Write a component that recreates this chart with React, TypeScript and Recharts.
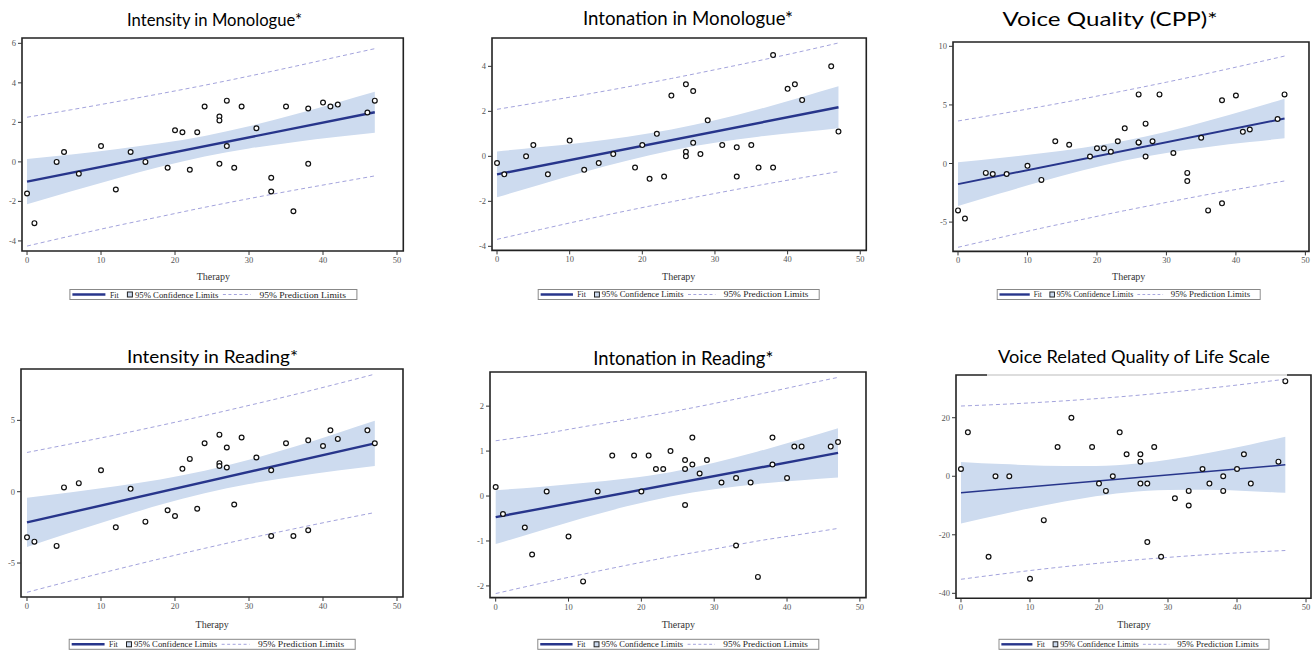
import React from "react";
import { ComposedChart, Area, Line, Scatter, XAxis, YAxis, ReferenceArea } from "recharts";

// therapy sessions (shared x for every panel)
const THERAPY = [0, 1, 4, 5, 7, 10, 12, 14, 16, 19, 20, 21, 22, 23, 24, 26, 26, 26, 27, 27, 28, 29, 31, 33, 33, 35, 36, 38, 38, 40, 41, 42, 46, 47];
const X_TICKS = [0, 10, 20, 30, 40, 50];
const BAND_X = [0, 6, 12, 18, 24, 30, 36, 42, 47];
const FIT_X = [0, 47];

// Intensity in Monologue
const intMonoY = [-1.6, -3.1, 0, 0.5, -0.6, 0.8, -1.4, 0.5, 0, -0.3, 1.6, 1.5, -0.4, 1.5, 2.8, 2.3, 2.1, -0.1, 3.1, 0.8, -0.3, 2.8, 1.7, -0.8, -1.5, 2.8, -2.5, 2.7, -0.1, 3.0, 2.8, 2.9, 2.5, 3.1];
const intMonoFit = [-1.0, 2.51];
const intMonoCiLo = [-2.15, -1.48, -0.85, -0.25, 0.27, 0.68, 1.0, 1.27, 1.47];
const intMonoCiHi = [0.15, 0.38, 0.64, 0.94, 1.31, 1.8, 2.38, 3.01, 3.55];
const intMonoPiLo = [-4.26, -3.74, -3.24, -2.77, -2.3, -1.86, -1.44, -1.04, -0.71];
const intMonoPiHi = [2.26, 2.64, 3.04, 3.45, 3.88, 4.34, 4.82, 5.32, 5.73];

// Intonation in Monologue
const intoMonoY = [-0.3, -0.8, 0, 0.5, -0.8, 0.7, -0.6, -0.3, 0.1, -0.5, 0.5, -1.0, 1.0, -0.9, 2.7, 3.2, 0.2, 0.0, 2.9, 0.6, 0.1, 1.6, 0.5, 0.4, -0.9, 0.5, -0.5, 4.5, -0.5, 3.0, 3.2, 2.5, 4.0, 1.1];
const intoMonoFit = [-0.8, 2.18];
const intoMonoCiLo = [-1.82, -1.25, -0.7, -0.19, 0.26, 0.6, 0.87, 1.08, 1.25];
const intoMonoCiHi = [0.22, 0.41, 0.62, 0.87, 1.19, 1.6, 2.09, 2.64, 3.11];
const intoMonoPiLo = [-3.69, -3.25, -2.82, -2.41, -2.02, -1.65, -1.29, -0.95, -0.68];
const intoMonoPiHi = [2.09, 2.41, 2.74, 3.09, 3.46, 3.85, 4.25, 4.67, 5.04];

// Voice Quality (CPP)
const cppY = [-4.0, -4.7, -0.8, -0.9, -0.9, -0.2, -1.4, 1.9, 1.6, 0.6, 1.3, 1.3, 1.0, 1.9, 3.0, 5.9, 1.8, 1.8, 3.4, 0.6, 1.9, 5.9, 0.9, -0.8, -1.5, 2.2, -4.0, 5.4, -3.4, 5.8, 2.7, 2.9, 3.8, 5.9];
const cppFit = [-1.76, 3.84];
const cppCiLo = [-3.62, -2.56, -1.53, -0.58, 0.25, 0.9, 1.41, 1.83, 2.15];
const cppCiHi = [0.1, 0.46, 0.87, 1.34, 1.95, 2.72, 3.65, 4.66, 5.53];
const cppPiLo = [-7.15, -6.33, -5.52, -4.76, -4.02, -3.32, -2.64, -2.01, -1.49];
const cppPiHi = [3.63, 4.23, 4.86, 5.52, 6.22, 6.94, 7.7, 8.49, 9.17];

// Intensity in Reading
const intReadY = [-3.2, -3.5, -3.8, 0.3, 0.6, 1.5, -2.5, 0.2, -2.1, -1.3, -1.7, 1.6, 2.3, -1.2, 3.4, 4.0, 2.0, 1.8, 3.1, 1.7, -0.9, 3.8, 2.4, 1.5, -3.1, 3.4, -3.1, 3.6, -2.7, 3.2, 4.3, 3.7, 4.3, 3.4];
const intReadFit = [-2.15, 3.39];
const intReadCiLo = [-3.88, -2.85, -1.86, -0.92, -0.11, 0.54, 1.05, 1.48, 1.81];
const intReadCiHi = [-0.42, -0.03, 0.38, 0.86, 1.47, 2.24, 3.13, 4.12, 4.97];
const intReadPiLo = [-7.05, -6.24, -5.46, -4.7, -3.97, -3.27, -2.61, -1.97, -1.46];
const intReadPiHi = [2.75, 3.36, 3.98, 4.64, 5.33, 6.05, 6.79, 7.57, 8.24];

// Intonation in Reading
const intoReadY = [0.2, -0.4, -0.7, -1.3, 0.1, -0.9, -1.9, 0.1, 0.9, 0.9, 0.1, 0.9, 0.6, 0.6, 1.0, 0.8, 0.6, -0.2, 1.3, 0.7, 0.5, 0.8, 0.3, 0.4, -1.1, 0.3, -1.8, 1.3, 0.7, 0.4, 1.1, 1.1, 1.1, 1.2];
const intoReadFit = [-0.47, 0.96];
const intoReadCiLo = [-1.07, -0.78, -0.49, -0.23, -0.01, 0.15, 0.27, 0.35, 0.41];
const intoReadCiHi = [0.13, 0.2, 0.29, 0.39, 0.53, 0.74, 0.99, 1.27, 1.51];
const intoReadPiLo = [-2.17, -1.95, -1.74, -1.54, -1.35, -1.18, -1.0, -0.85, -0.72];
const intoReadPiHi = [1.23, 1.37, 1.54, 1.7, 1.87, 2.06, 2.26, 2.47, 2.64];

// Voice Related Quality of Life Scale
const vrqolY = [2.5, 15, -27.5, 0, 0, -35, -15, 10, 20, 10, -2.5, -5, 0, 15, 7.5, 7.5, 5, -2.5, -2.5, -22.5, 10, -27.5, -7.5, -5, -10, 2.5, -2.5, 0, -5, 2.5, 7.5, -2.5, 5, 32.5];
const vrqolFit = [-5.6, 3.9];
const vrqolCiLo = [-16.1, -12.94, -9.96, -7.39, -5.54, -4.7, -4.64, -5.1, -5.67];
const vrqolCiHi = [4.9, 4.16, 3.62, 3.47, 4.04, 5.62, 8.0, 10.88, 13.47];
const vrqolPiLo = [-35.2, -33.37, -31.67, -30.17, -28.84, -27.72, -26.74, -25.94, -25.37];
const vrqolPiHi = [24.0, 24.59, 25.33, 26.25, 27.34, 28.64, 30.1, 31.72, 33.17];

const FIT_COLOR = "#27358b";
const BAND_COLOR = "#cddbef";
const PRED_COLOR = "#a3a3dc";
const Y_W = 30;
const X_H = 20;
const PAD = 2;

const panels = [
  { title: "Intensity in Monologue*", titleX: 214.5, titleY: 26, titleW: 175, titleS: 17.5, frame: [21.7, 38, 403, 251], xd: [-0.68, 50.85], yd: [-4.51, 6.27], yTicks: [-4, -2, 0, 2, 4, 6], ys: intMonoY, fit: intMonoFit, ciLo: intMonoCiLo, ciHi: intMonoCiHi, piLo: intMonoPiLo, piHi: intMonoPiHi, fitW: 2.4, legX: 213.4, legW: 287, legY: 289.5, labY: 280 },
  { title: "Intonation in Monologue*", titleX: 688, titleY: 25, titleW: 210, titleS: 19, frame: [491.7, 38.3, 866, 250.7], xd: [-0.69, 50.83], yd: [-4.18, 5.26], yTicks: [-4, -2, 0, 2, 4], ys: intoMonoY, fit: intoMonoFit, ciLo: intoMonoCiLo, ciHi: intoMonoCiHi, piLo: intoMonoPiLo, piHi: intoMonoPiHi, fitW: 2.4, legX: 678.7, legW: 281, legY: 289.5, labY: 280 },
  { title: "Voice Quality (CPP)*", titleX: 1110, titleY: 26, titleW: 215, titleS: 20, frame: [953.3, 42.3, 1309.3, 251.7], xd: [-0.72, 50.52], yd: [-7.5, 10.37], yTicks: [-5, 0, 5, 10], ys: cppY, fit: cppFit, ciLo: cppCiLo, ciHi: cppCiHi, piLo: cppPiLo, piHi: cppPiHi, fitW: 2, legX: 1128.7, legW: 263, legY: 289.5, labY: 280 },
  { title: "Intensity in Reading*", titleX: 212.5, titleY: 363, titleW: 171, titleS: 17.5, frame: [20.7, 369.3, 402.7, 597.3], xd: [-0.81, 50.81], yd: [-7.38, 8.6], yTicks: [-5, 0, 5], ys: intReadY, fit: intReadFit, ciLo: intReadCiLo, ciHi: intReadCiHi, piLo: intReadPiLo, piHi: intReadPiHi, fitW: 2.4, legX: 212.2, legW: 286, legY: 639.3, labY: 628 },
  { title: "Intonation in Reading*", titleX: 683.3, titleY: 364.5, titleW: 180, titleS: 18.5, frame: [490, 371.7, 866, 597.3], xd: [-0.78, 50.84], yd: [-2.26, 2.76], yTicks: [-2, -1, 0, 1, 2], ys: intoReadY, fit: intoReadFit, ciLo: intoReadCiLo, ciHi: intoReadCiHi, piLo: intoReadPiLo, piHi: intoReadPiHi, fitW: 2.4, legX: 678.3, legW: 281, legY: 639.3, labY: 628 },
  { title: "Voice Related Quality of Life Scale", titleX: 1134, titleY: 363, titleW: 272, titleS: 18, frame: [955.7, 375, 1310.7, 598.3], xd: [-0.72, 50.72], yd: [-41.7, 34.6], yTicks: [-40, -20, 0, 20], ys: vrqolY, fit: vrqolFit, ciLo: vrqolCiLo, ciHi: vrqolCiHi, piLo: vrqolPiLo, piHi: vrqolPiHi, fitW: 1.5, legX: 1134, legW: 270, legY: 639.3, labY: 628 },
];

const tickStyle = { fontSize: 8.5, fill: "#555", fontFamily: "Liberation Serif" };

function Dot(p: any) {
  return <circle cx={p.cx} cy={p.cy} r={2.4} fill="#fff" stroke="#111" strokeWidth={1.2} />;
}

function Panel({ p }: { p: any }) {
  const [L, T, R, B] = p.frame;
  const band = BAND_X.map((x, i) => ({ x, ci: [p.ciLo[i], p.ciHi[i]], piLo: p.piLo[i], piHi: p.piHi[i] }));
  const fitRows = FIT_X.map((x, i) => ({ x, y: p.fit[i] }));
  const pts = THERAPY.map((x, i) => ({ x, y: p.ys[i] }));
  return (
    <div style={{ position: "absolute", left: L - Y_W, top: T - PAD }}>
      <ComposedChart width={R - L + Y_W + PAD} height={B - T + X_H + PAD} data={band} margin={{ top: PAD, right: PAD, left: 0, bottom: 0 }}>
        <XAxis type="number" dataKey="x" domain={p.xd} ticks={X_TICKS} allowDataOverflow height={X_H} tick={tickStyle} tickSize={4} tickLine={{ stroke: "#333" }} axisLine={false} interval={0} />
        <YAxis type="number" domain={p.yd} ticks={p.yTicks} allowDataOverflow width={Y_W} tick={tickStyle} tickSize={4} tickLine={{ stroke: "#333" }} axisLine={false} interval={0} />
        <Area type="monotone" dataKey="ci" stroke="none" fill={BAND_COLOR} fillOpacity={1} isAnimationActive={false} />
        <Line type="monotone" dataKey="piLo" stroke={PRED_COLOR} strokeWidth={1} strokeDasharray="4 3" dot={false} isAnimationActive={false} />
        <Line type="monotone" dataKey="piHi" stroke={PRED_COLOR} strokeWidth={1} strokeDasharray="4 3" dot={false} isAnimationActive={false} />
        <Line data={fitRows} type="linear" dataKey="y" stroke={FIT_COLOR} strokeWidth={p.fitW} dot={false} isAnimationActive={false} />
        <Scatter data={pts} dataKey="y" shape={Dot} isAnimationActive={false} />
        <ReferenceArea x1={p.xd[0]} x2={p.xd[1]} y1={p.yd[0]} y2={p.yd[1]} fill="none" stroke="#222" strokeWidth={1.6} ifOverflow="visible" />
      </ComposedChart>
    </div>
  );
}

function LegendBox({ cx, top, w }: { cx: number; top: number; w: number }) {
  const s = w / 287;
  const t = { fontSize: 8, fontFamily: "Liberation Serif", fill: "#222" };
  return (
    <g transform={`translate(${cx - w / 2},${top}) scale(${s},1)`}>
      <rect x={0} y={0} width={287} height={10} fill="#fff" stroke="#888" strokeWidth={1} />
      <line x1={2.5} x2={35.5} y1={5} y2={5} stroke={FIT_COLOR} strokeWidth={2.4} />
      <text x={40} y={8} {...t} textLength={8.7} lengthAdjust="spacingAndGlyphs">Fit</text>
      <rect x={57.5} y={2.5} width={5} height={5} fill={BAND_COLOR} stroke="#222" strokeWidth={1} />
      <text x={65} y={8} {...t} textLength={83.5} lengthAdjust="spacingAndGlyphs">95% Confidence Limits</text>
      <line x1={153} x2={181} y1={5} y2={5} stroke={PRED_COLOR} strokeWidth={1} strokeDasharray="3 2.5" />
      <text x={189.5} y={8} {...t} textLength={86.5} lengthAdjust="spacingAndGlyphs">95% Prediction Limits</text>
    </g>
  );
}

export default function App() {
  return (
    <div style={{ position: "absolute", left: 0, top: 0, width: 1313, height: 655, background: "#fff", overflow: "hidden" }}>
      {panels.map((p) => (
        <Panel key={p.title} p={p} />
      ))}
      <svg width={1313} height={655} style={{ position: "absolute", left: 0, top: 0, pointerEvents: "none" }}>
        <rect x={987} y={373.6} width={300} height={2.8} fill="#fff" />
        <line x1={987} x2={1287} y1={375} y2={375} stroke="#bbb" strokeWidth={1} />
        {panels.map((p) => (
          <g key={p.title}>
            <text x={p.titleX} y={p.titleY} textAnchor="middle" fontFamily="Lato" fontSize={p.titleS} fill="#000" textLength={p.titleW} lengthAdjust="spacingAndGlyphs">{p.title}</text>
            <text x={p.legX} y={p.labY} textAnchor="middle" fontFamily="Liberation Serif" fontSize={10} fill="#333">Therapy</text>
            <LegendBox cx={p.legX} top={p.legY} w={p.legW} />
          </g>
        ))}
      </svg>
    </div>
  );
}
